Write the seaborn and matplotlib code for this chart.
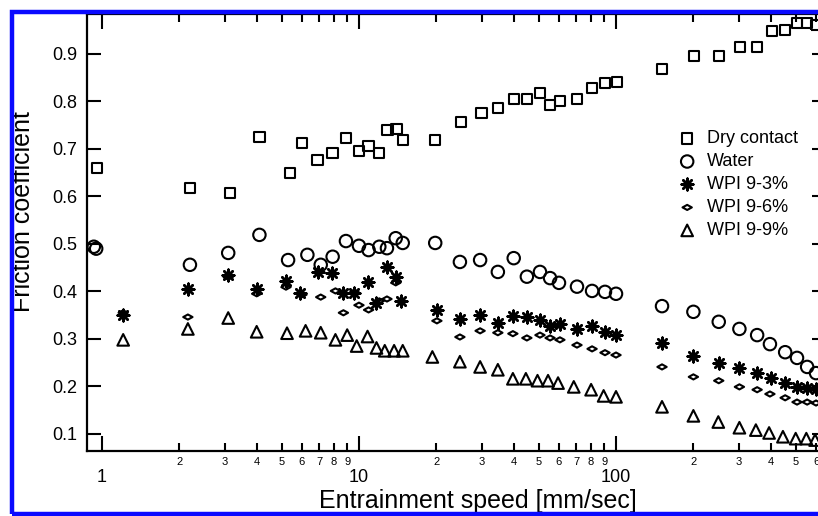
import matplotlib
matplotlib.use('Agg')
import matplotlib.pyplot as plt
import matplotlib.ticker as mticker
from matplotlib.patches import Rectangle
from matplotlib.path import Path
import seaborn as sns
import numpy as np
import pandas as pd

sns.set_style('ticks')
plt.rcParams['font.family'] = ['Liberation Sans', 'DejaVu Sans']
plt.rcParams.update({'text.color': 'black', 'axes.labelcolor': 'black',
                     'xtick.color': 'black', 'ytick.color': 'black', 'axes.edgecolor': 'black'})

# DATA
dry_x = [0.96, 2.2, 3.15, 4.1, 5.4, 6.0, 6.9, 7.9, 8.9, 10, 10.9, 12, 12.9, 14, 14.8,
         19.8, 24.9, 30, 34.7, 40, 45, 50.6, 55.4, 60.5, 70.5, 80.7, 90.6, 101,
         151, 201, 251, 303, 354, 405, 455, 506, 554, 600]
dry_y = [0.66, 0.618, 0.607, 0.725, 0.649, 0.713, 0.677, 0.692, 0.723, 0.696, 0.706, 0.692, 0.74, 0.742, 0.719,
         0.719, 0.757, 0.776, 0.786, 0.805, 0.805, 0.818, 0.793, 0.801, 0.805, 0.828, 0.839, 0.841,
         0.868, 0.896, 0.896, 0.915, 0.915, 0.948, 0.95, 0.965, 0.965, 0.961]

water_x = [0.93, 0.95, 2.2, 3.1, 4.1, 5.3, 6.3, 7.1, 7.9, 8.9, 10, 10.9, 12, 12.85, 13.9, 14.8,
           19.8, 24.7, 29.6, 34.7, 40, 45, 50.6, 55.4, 60, 70.5, 80.7, 90.6, 100,
           151, 200, 251, 302, 354, 397, 455, 506, 554, 600]
water_y = [0.494, 0.49, 0.456, 0.481, 0.519, 0.466, 0.477, 0.456, 0.473, 0.506, 0.496, 0.487, 0.494, 0.491, 0.512, 0.502,
           0.502, 0.462, 0.466, 0.441, 0.47, 0.431, 0.441, 0.428, 0.418, 0.41, 0.401, 0.399, 0.395,
           0.369, 0.357, 0.336, 0.321, 0.308, 0.289, 0.272, 0.26, 0.241, 0.228]

wpi3_x = [1.21, 2.16, 3.1, 4.0, 5.2, 5.9, 6.9, 7.85, 8.7, 9.6, 10.8, 11.7, 12.8, 13.9, 14.6,
          20.1, 24.7, 29.6, 34.7, 39.7, 45, 50.6, 55.4, 60.5, 70.5, 80.7, 90.6, 100,
          151, 200, 251, 302, 354, 400, 455, 506, 554, 600]
wpi3_y = [0.351, 0.405, 0.435, 0.405, 0.422, 0.397, 0.441, 0.439, 0.397, 0.397, 0.42, 0.375, 0.452, 0.43, 0.38,
          0.361, 0.342, 0.35, 0.334, 0.348, 0.347, 0.34, 0.327, 0.331, 0.321, 0.327, 0.315, 0.308,
          0.291, 0.264, 0.25, 0.239, 0.228, 0.218, 0.207, 0.199, 0.197, 0.195]

wpi6_x = [1.21, 2.16, 3.1, 4.0, 5.2, 6.0, 7.1, 8.1, 8.7, 9.6, 10, 10.9, 12, 12.85, 13.9,
          20.1, 24.7, 29.6, 34.7, 39.7, 45, 50.6, 55.4, 60.5, 70.5, 80.7, 90.6, 100,
          151, 200, 251, 302, 354, 397, 455, 506, 554, 600]
wpi6_y = [0.355, 0.346, 0.43, 0.395, 0.409, 0.393, 0.388, 0.401, 0.355, 0.398, 0.371, 0.361, 0.38, 0.384, 0.418,
          0.338, 0.304, 0.317, 0.313, 0.311, 0.302, 0.308, 0.302, 0.298, 0.287, 0.279, 0.271, 0.266,
          0.241, 0.22, 0.212, 0.199, 0.193, 0.184, 0.176, 0.167, 0.167, 0.165]

wpi9_x = [1.21, 2.16, 3.1, 4.0, 5.25, 6.2, 7.1, 8.1, 9.0, 9.8, 10.8, 11.7, 12.6, 13.7, 14.8,
          19.3, 24.7, 29.6, 34.7, 39.7, 44.6, 49.5, 54.4, 59.5, 68.5, 80, 89.5, 100,
          151, 200, 250, 302, 350, 394, 446, 500, 550, 595]
wpi9_y = [0.298, 0.321, 0.344, 0.315, 0.312, 0.317, 0.313, 0.298, 0.308, 0.285, 0.305, 0.281, 0.275, 0.275, 0.275,
          0.262, 0.252, 0.241, 0.235, 0.216, 0.216, 0.212, 0.212, 0.207, 0.199, 0.193, 0.18, 0.178,
          0.157, 0.138, 0.125, 0.113, 0.108, 0.102, 0.094, 0.09, 0.09, 0.087]

labels = ['Dry contact', 'Water', 'WPI 9-3%', 'WPI 9-6%', 'WPI 9-9%']
major_ticks = [1, 10, 100]
minor_ticks = [m * d for d in major_ticks for m in range(2, 10)]
y_ticks = [0.1, 0.2, 0.3, 0.4, 0.5, 0.6, 0.7, 0.8, 0.9]

df = pd.concat([
    pd.DataFrame({'speed': dry_x, 'friction': dry_y, 'fluid': labels[0]}),
    pd.DataFrame({'speed': water_x, 'friction': water_y, 'fluid': labels[1]}),
    pd.DataFrame({'speed': wpi3_x, 'friction': wpi3_y, 'fluid': labels[2]}),
    pd.DataFrame({'speed': wpi6_x, 'friction': wpi6_y, 'fluid': labels[3]}),
    pd.DataFrame({'speed': wpi9_x, 'friction': wpi9_y, 'fluid': labels[4]}),
], ignore_index=True)

# flat diamond used for WPI 9-6%
flat_diamond = Path([(-1, 0), (0, 0.55), (1, 0), (0, -0.55), (-1, 0)],
                    [Path.MOVETO, Path.LINETO, Path.LINETO, Path.LINETO, Path.CLOSEPOLY])

fig = plt.figure(figsize=(8.18, 5.16), dpi=100)
ax = fig.add_axes([87 / 818, 65 / 516, 739 / 818, 437 / 516])

# open markers
for name, marker, size in [(labels[0], 's', 55), (labels[1], 'o', 80),
                           (labels[3], flat_diamond, 45), (labels[4], '^', 70)]:
    sns.scatterplot(data=df[df['fluid'] == name], x='speed', y='friction', marker=marker, s=size,
                    facecolor='none', edgecolor='black', linewidth=1.5, ax=ax, label=name, zorder=3)
# asterisk is an unfilled marker
sns.scatterplot(data=df[df['fluid'] == labels[2]], x='speed', y='friction', marker=(8, 2, 0), s=70,
                color='black', linewidth=1.8, ax=ax, label=labels[2], zorder=3)

ax.set_xscale('log')
ax.set_xlim(0.875, 656)
ax.set_ylim(0.064, 0.984)

ax.xaxis.set_major_locator(mticker.FixedLocator(major_ticks))
ax.xaxis.set_minor_locator(mticker.FixedLocator(minor_ticks))
ax.xaxis.set_major_formatter(mticker.FuncFormatter(lambda v, p: '%g' % v))
ax.xaxis.set_minor_formatter(mticker.FuncFormatter(
    lambda v, p: '%d' % round(v / 10 ** np.floor(np.log10(v) + 1e-9))))
ax.set_yticks(y_ticks)
ax.yaxis.set_major_formatter(mticker.FormatStrFormatter('%.1f'))

ax.tick_params(axis='both', which='both', direction='in', top=True, right=True, color='black', width=1.5)
ax.tick_params(axis='x', which='major', length=11, labelsize=13, pad=13)
ax.tick_params(axis='x', which='minor', length=6, labelsize=8, pad=4)
ax.tick_params(axis='y', which='major', length=10, labelsize=13, pad=7)
for s in ax.spines.values():
    s.set_linewidth(1.6)
    s.set_color('black')

ax.set_xlabel('Entrainment speed [mm/sec]', fontsize=18)
ax.set_ylabel('Friction coefficient', fontsize=18)
ax.xaxis.set_label_coords(0.529, -0.088)
ax.yaxis.set_label_coords(-0.071, 0.547)

# legend in the order of the reference
handles, lbls = ax.get_legend_handles_labels()
order = [lbls.index(l) for l in labels]
ax.legend([handles[i] for i in order], labels, loc='upper left', bbox_to_anchor=(0.818, 0.765),
          bbox_transform=fig.transFigure, frameon=False, fontsize=13, borderpad=0,
          handlelength=1.0, handletextpad=0.6, labelspacing=0.33)

# blue frame around the picture
fig.add_artist(Rectangle((11.5 / 818, 2 / 516), 1.05, 1 - 13.5 / 516, transform=fig.transFigure,
                         fill=False, edgecolor='#0a0aff', linewidth=3.2, zorder=10))

fig.savefig('out.png', dpi=100)
